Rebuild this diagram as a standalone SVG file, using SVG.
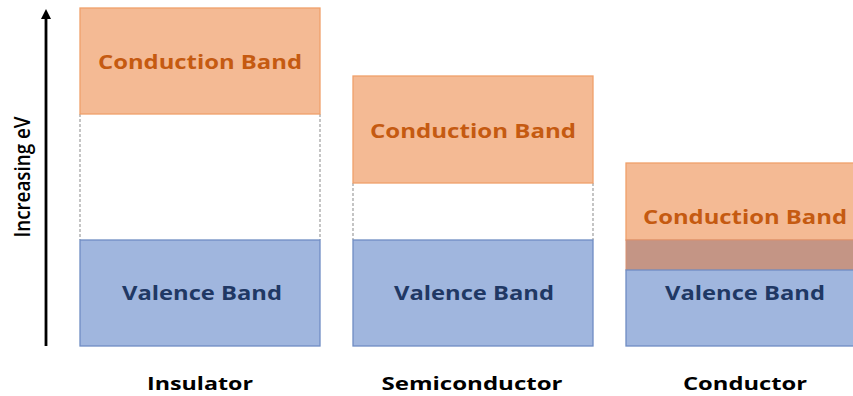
<svg xmlns="http://www.w3.org/2000/svg" width="853" height="396" viewBox="0 0 853 396">
<defs>
<style>
.cb{fill:#F4BA94;stroke:#F0A06A;stroke-width:1.3}
.vb{fill:#A0B6DE;stroke:#6F8DC3;stroke-width:1.3}
.ov{fill:#C49585;stroke:#D89070;stroke-width:1}
.gap{stroke:#A6A6A6;stroke-width:1.3;stroke-dasharray:3,2;fill:none}
.ct{font-family:"Open Sans","Liberation Sans",sans-serif;font-weight:bold;font-size:19px;fill:#C55A11;text-anchor:middle}
.vt{font-family:"Open Sans","Liberation Sans",sans-serif;font-weight:bold;font-size:19px;fill:#203864;text-anchor:middle}
.lt{font-family:"Open Sans","Liberation Sans",sans-serif;font-weight:bold;font-size:18px;fill:#000;text-anchor:middle}
</style>
<marker id="ah" markerWidth="10" markerHeight="10" refX="5" refY="5" orient="auto" markerUnits="userSpaceOnUse"><path d="M0,0 L10,5 L0,10 Z" fill="#000"/></marker>
</defs>
<rect width="853" height="396" fill="#fff"/>
<g id="axis">
<line x1="46" y1="346" x2="46" y2="14" stroke="#000" stroke-width="2.8" marker-end="url(#ah)"/>
<text transform="translate(30,177) rotate(-90)" font-family="Open Sans,Liberation Sans,sans-serif" font-weight="600" font-size="22" text-anchor="middle" textLength="121" lengthAdjust="spacingAndGlyphs">Increasing eV</text>
</g>
<g id="connectors">
<line class="gap" x1="80" y1="114" x2="80" y2="240"/>
<line class="gap" x1="320" y1="114" x2="320" y2="240"/>
<line class="gap" x1="353" y1="183" x2="353" y2="240"/>
<line class="gap" x1="593" y1="183" x2="593" y2="240"/>
</g>
<g id="insulator">
<rect class="cb" x="80" y="8" width="240" height="106"/>
<text class="ct" x="200" y="69" textLength="204" lengthAdjust="spacingAndGlyphs">Conduction Band</text>
<rect class="vb" x="80" y="240" width="240" height="106"/>
<text class="vt" x="202" y="300" textLength="160" lengthAdjust="spacingAndGlyphs">Valence Band</text>
<text class="lt" x="200" y="390" textLength="106" lengthAdjust="spacingAndGlyphs">Insulator</text>
</g>
<g id="semiconductor">
<rect class="cb" x="353" y="76" width="240" height="107"/>
<text class="ct" x="473" y="138" textLength="206" lengthAdjust="spacingAndGlyphs">Conduction Band</text>
<rect class="vb" x="353" y="240" width="240" height="106"/>
<text class="vt" x="474" y="300" textLength="160" lengthAdjust="spacingAndGlyphs">Valence Band</text>
<text class="lt" x="472" y="390" textLength="181" lengthAdjust="spacingAndGlyphs">Semiconductor</text>
</g>
<g id="conductor">
<rect class="cb" x="626" y="163" width="230" height="77"/>
<rect class="ov" x="626" y="240" width="230" height="30"/>
<rect class="vb" x="626" y="270" width="230" height="76"/>
<text class="ct" x="745" y="224" textLength="204" lengthAdjust="spacingAndGlyphs">Conduction Band</text>
<text class="vt" x="745" y="300" textLength="160" lengthAdjust="spacingAndGlyphs">Valence Band</text>
<text class="lt" x="745" y="390" textLength="124" lengthAdjust="spacingAndGlyphs">Conductor</text>
</g>
</svg>
